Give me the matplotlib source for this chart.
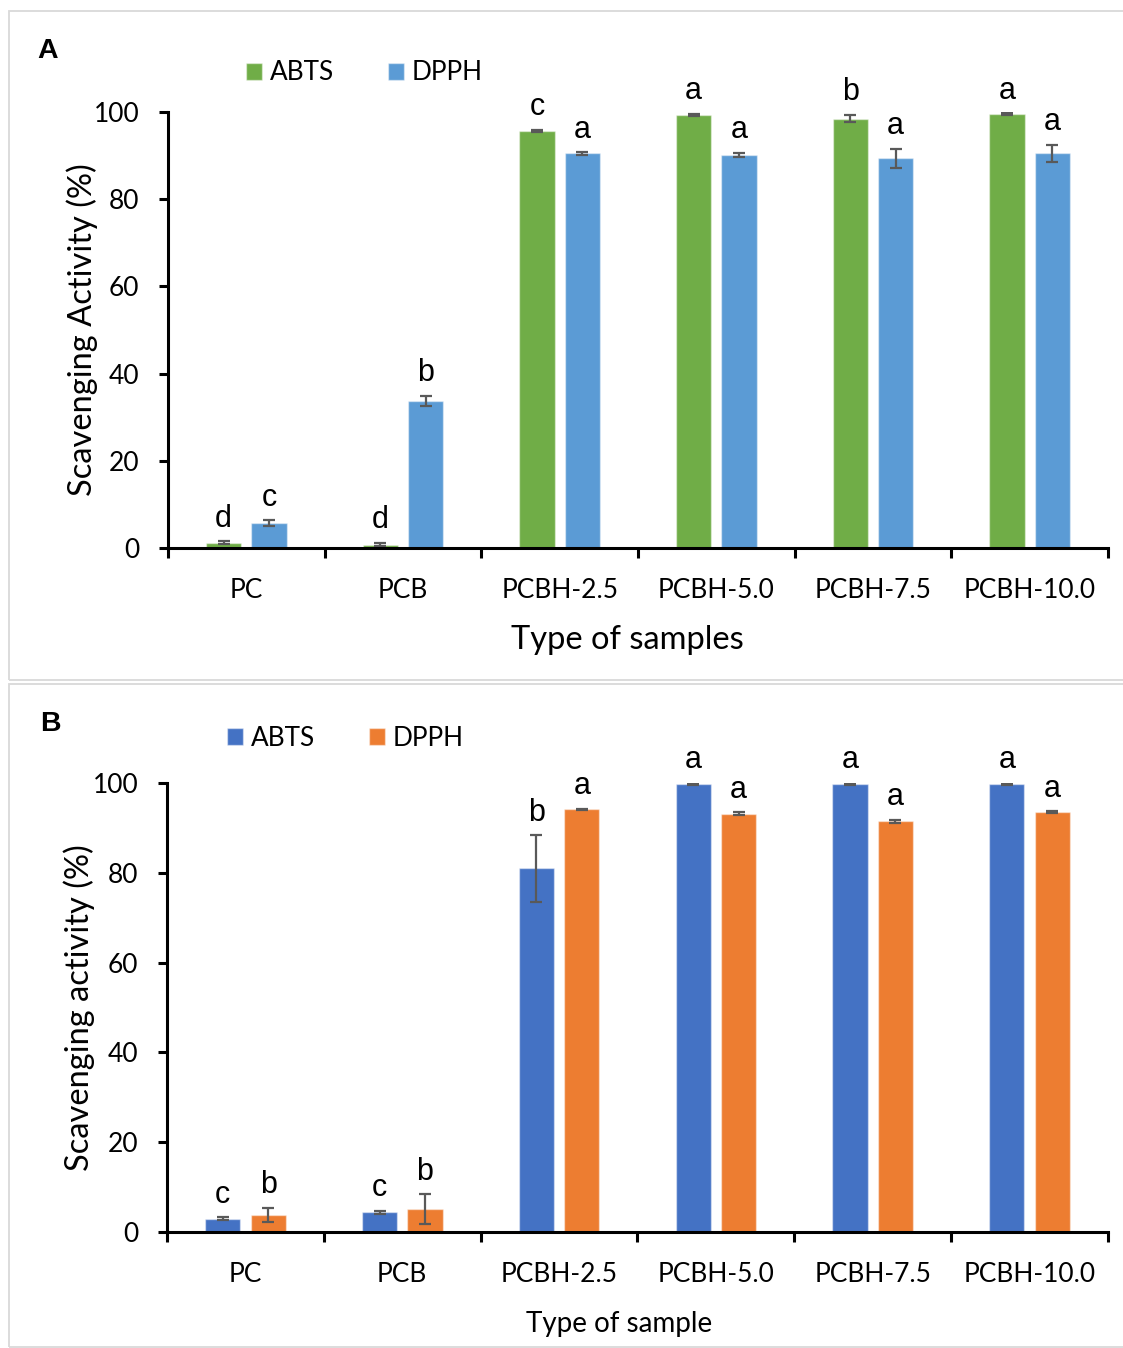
import matplotlib
matplotlib.use('Agg')
import matplotlib.pyplot as plt
from matplotlib.patches import Rectangle
import numpy as np

# 数据
samples = ['PC', 'PCB', 'PCBH-2.5', 'PCBH-5.0', 'PCBH-7.5', 'PCBH-10.0']
series = ['ABTS', 'DPPH']

# Panel A
a_abts = [1.2, 0.8, 95.6, 99.3, 98.5, 99.5]
a_abts_err = [0.3, 0.4, 0.3, 0.3, 0.9, 0.2]
a_dpph = [5.7, 33.7, 90.5, 90.1, 89.4, 90.5]
a_dpph_err = [0.7, 1.2, 0.3, 0.5, 2.2, 2.0]
a_abts_letters = ['d', 'd', 'c', 'a', 'b', 'a']
a_dpph_letters = ['c', 'b', 'a', 'a', 'a', 'a']

# Panel B
b_abts = [3.0, 4.4, 81.0, 99.8, 99.8, 99.8]
b_abts_err = [0.3, 0.3, 7.4, 0.2, 0.3, 0.2]
b_dpph = [3.8, 5.1, 94.1, 93.2, 91.5, 93.5]
b_dpph_err = [1.6, 3.3, 0.2, 0.3, 0.3, 0.2]
b_abts_letters = ['c', 'c', 'b', 'a', 'a', 'a']
b_dpph_letters = ['b', 'b', 'a', 'a', 'a', 'a']

W, H = 1123, 1348
fig = plt.figure(figsize=(W / 100, H / 100), dpi=100)
plt.rcParams['font.family'] = ['Lato', 'DejaVu Sans']

# 面板边框
border = '#D9D9D9'
fig.add_artist(Rectangle((9 / W, 1 - 680 / H), 1.2, (680 - 11) / H,
                         transform=fig.transFigure, fill=False, ec=border, lw=1.3))
fig.add_artist(Rectangle((9 / W, 1 - 1347 / H), 1.2, (1347 - 684) / H,
                         transform=fig.transFigure, fill=False, ec=border, lw=1.3))


def px_axes(left, right, top, bottom):
    return fig.add_axes([left / W, 1 - bottom / H, (right - left) / W, (bottom - top) / H])


def draw_panel(ax, v1, e1, v2, e2, l1, l2, colors, ylabel, xlabel, xlab_size, xlab_pos, ylab_x):
    x = np.arange(len(samples))
    w = 0.225
    off = 0.145
    ekw = dict(ecolor='#595959', elinewidth=1.6, capsize=4.5, capthick=1.6)
    b1 = ax.bar(x - off, v1, w, color=colors[0], edgecolor=(1, 1, 1, 0.45), lw=1,
                yerr=e1, error_kw=ekw, label=series[0], zorder=2)
    b2 = ax.bar(x + off, v2, w, color=colors[1], edgecolor=(1, 1, 1, 0.45), lw=1,
                yerr=e2, error_kw=ekw, label=series[1], zorder=2)

    # 显著性字母
    for xs, vals, errs, letters in [(x - off, v1, e1, l1), (x + off, v2, e2, l2)]:
        for xi, v, e, t in zip(xs, vals, errs, letters):
            ax.annotate(t, (xi, v + e), xytext=(0, 10.5), textcoords='offset points',
                        ha='center', va='baseline', fontsize=22,
                        family=['Liberation Sans', 'DejaVu Sans'])

    ax.set_xlim(-0.5, len(samples) - 0.5)
    ax.set_ylim(0, 100)
    ax.set_yticks(range(0, 101, 20))
    ax.set_xticks(x)
    ax.set_xticklabels(samples)
    ax.set_xticks(np.arange(-0.5, len(samples)), minor=True)
    ax.tick_params(axis='x', which='major', length=0, pad=21.5, labelsize=19)
    ax.tick_params(axis='x', which='minor', length=7, width=2.2, direction='out')
    ax.tick_params(axis='y', length=6.5, width=2.2, pad=14, labelsize=19)
    for s in ['top', 'right']:
        ax.spines[s].set_visible(False)
    for s in ['left', 'bottom']:
        ax.spines[s].set_linewidth(2.2)
    ax.set_ylabel(ylabel, fontsize=23.5)
    ax.yaxis.set_label_coords(ylab_x, 0.5)
    ax.set_xlabel(xlabel, fontsize=xlab_size)
    ax.xaxis.set_label_coords(*xlab_pos)
    return b1, b2


axA = px_axes(168, 1108, 112, 548)
draw_panel(axA, a_abts, a_abts_err, a_dpph, a_dpph_err, a_abts_letters, a_dpph_letters,
           ['#70AD47', '#5B9BD5'], 'Scavenging Activity (%)', 'Type of samples', 23.5,
           (0.489, -0.177), -0.074)
axA.legend(loc='center left', bbox_to_anchor=(246 / W, 1 - 73 / H), bbox_transform=fig.transFigure,
           ncol=2, frameon=False, fontsize=18.8, handlelength=0.62, handleheight=0.62,
           handletextpad=0.3, columnspacing=2.05, borderpad=0, borderaxespad=0)
fig.text(37 / W, 1 - 38 / H, 'A', fontsize=20.5, fontweight='bold', va='top', ha='left',
         family=['Liberation Sans', 'DejaVu Sans'])

axB = px_axes(167, 1108, 783, 1232)
draw_panel(axB, b_abts, b_abts_err, b_dpph, b_dpph_err, b_abts_letters, b_dpph_letters,
           ['#4472C4', '#ED7D31'], 'Scavenging activity (%)', 'Type of sample', 20,
           (0.481, -0.175), -0.077)
axB.legend(loc='center left', bbox_to_anchor=(227 / W, 1 - 738 / H), bbox_transform=fig.transFigure,
           ncol=2, frameon=False, fontsize=18.8, handlelength=0.62, handleheight=0.62,
           handletextpad=0.3, columnspacing=2.05, borderpad=0, borderaxespad=0)
fig.text(40 / W, 1 - 711 / H, 'B', fontsize=20.5, fontweight='bold', va='top', ha='left',
         family=['Liberation Sans', 'DejaVu Sans'])

fig.savefig('out.png', dpi=100)
